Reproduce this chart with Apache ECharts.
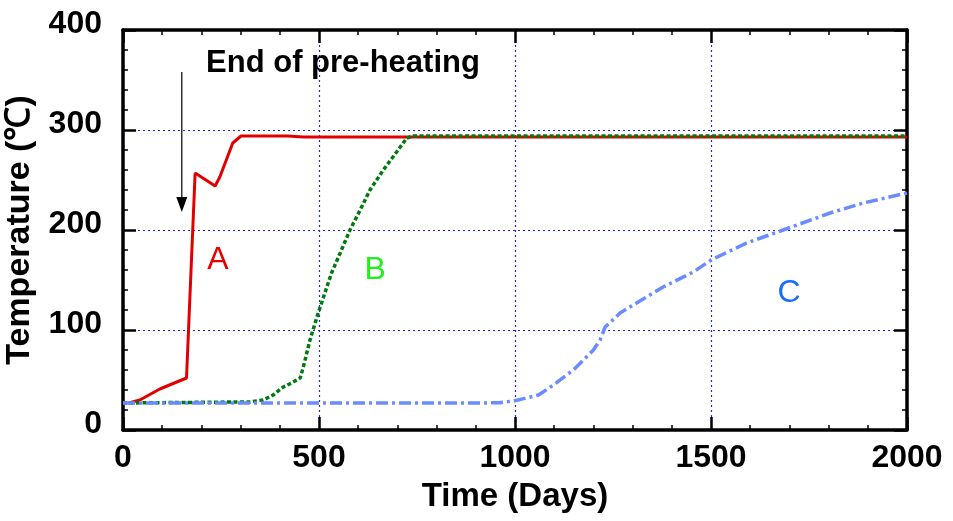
<!DOCTYPE html>
<html>
<head>
<meta charset="utf-8">
<script src="https://cdn.jsdelivr.net/npm/echarts@6/dist/echarts.min.js"></script>
<style>html,body{margin:0;padding:0;background:#fff;}#c{width:953px;height:521px;}</style>
</head>
<body>
<div id="c"></div>
<script>
// Data (days, °C)
const seriesA = [[15,27],[43,30],[94,41],[162,52],[184,257],[235,244],[247,253],[280,287],[301,294],[420,294],[460,293],[2000,293]];
const seriesB = [[0,27],[290,28],[324,28],[358,30],[383,35],[409,43],[430,47],[452,52],[460,63],[477,90],[498,117],[515,137],[532,157],[554,177],[579,200],[605,220],[630,240],[664,260],[698,278],[724,292],[740,294],[2000,294]];
const seriesC = [[0,27],[911,27],[962,27.3],[1000,29.3],[1060,35],[1098,45],[1149,60],[1200,80],[1217,90],[1230,103],[1268,117],[1310,127],[1378,143],[1455,158],[1500,170],[1591,187],[1684,200],[1804,217],[1889,227],[2000,237]];
const xTicks = [0, 500, 1000, 1500, 2000];
const yTicks = [0, 100, 200, 300, 400];
const labels = [
  {text: 'A', x: 242, y: 170, color: '#e60000'},
  {text: 'B', x: 643, y: 160, color: '#22ee22'},
  {text: 'C', x: 1699, y: 137, color: '#1a6cff'}
];
const note = {text: 'End of pre-heating', x: 217, y: 367, arrowX: 150, arrowFrom: 358, arrowTo: 218};

const font = 'Liberation Sans, Arial, sans-serif';
const chart = echarts.init(document.getElementById('c'));
const tickCommon = {
  axisLine: {show: true, onZero: false, lineStyle: {color: '#000', width: 3.5}},
  axisTick: {show: true, inside: true, length: 13, lineStyle: {color: '#000', width: 2.5}},
  minorTick: {show: true, splitNumber: 5, length: 5, lineStyle: {color: '#000', width: 1.5}},
};
const gridLine = {show: true, lineStyle: {color: '#2020ff', width: 1.2, type: [2, 3]}};
chart.setOption({
  animation: false,
  grid: {left: 123, right: 46, top: 30, bottom: 91, containLabel: false, outerBoundsMode: 'none'},
  xAxis: [
    Object.assign({type: 'value', min: xTicks[0], max: xTicks[xTicks.length-1], interval: 500,
      name: 'Time (Days)', nameLocation: 'middle', nameGap: 50,
      nameTextStyle: {fontFamily: font, fontWeight: 'bold', fontSize: 33, color: '#000'},
      axisLabel: {fontFamily: font, fontWeight: 'bold', fontSize: 32, color: '#000', margin: 12, formatter: v => String(v)},
      splitLine: gridLine}, tickCommon),
    Object.assign({type: 'value', position: 'top', min: xTicks[0], max: xTicks[xTicks.length-1], interval: 500,
      axisLabel: {show: false}, splitLine: {show: false}}, tickCommon)
  ],
  yAxis: [
    Object.assign({type: 'value', min: yTicks[0], max: yTicks[yTicks.length-1], interval: 100,
      name: 'Temperature (℃)', nameLocation: 'middle', nameGap: 86,
      nameTextStyle: {fontFamily: font, fontWeight: 'bold', fontSize: 34, color: '#000'},
      axisLabel: {fontFamily: font, fontWeight: 'bold', fontSize: 32, color: '#000', margin: 21, verticalAlign: 'bottom', lineHeight: 12, formatter: v => String(v)},
      splitLine: gridLine}, tickCommon),
    Object.assign({type: 'value', position: 'right', min: yTicks[0], max: yTicks[yTicks.length-1], interval: 100,
      axisLabel: {show: false}, splitLine: {show: false}}, tickCommon)
  ],
  series: [
    {type: 'line', data: seriesA, showSymbol: false, symbol: 'none', lineStyle: {color: '#e00000', width: 3}, z: 2},
    {type: 'line', data: seriesB, showSymbol: false, symbol: 'none', lineStyle: {color: '#007a10', width: 3.5, type: [4, 2.5]}, z: 3},
    {type: 'line', data: seriesC, showSymbol: false, symbol: 'none', lineStyle: {color: '#6a8cff', width: 3.5, type: [12, 4, 3, 4]}, z: 4}
  ]
});

const px = (x, y) => chart.convertToPixel({xAxisIndex: 0, yAxisIndex: 0}, [x, y]);
const g = [];
labels.forEach(l => {
  const p = px(l.x, l.y);
  g.push({type: 'text', x: p[0], y: p[1], z: 10, style: {text: l.text, fill: l.color, font: '32px ' + font, textAlign: 'center', textVerticalAlign: 'middle'}});
});
const np = px(note.x, note.y);
g.push({type: 'text', x: np[0] - 2, y: np[1], z: 10, style: {text: note.text, fill: '#000', font: 'bold 31px ' + font, textAlign: 'left', textVerticalAlign: 'middle'}});
const a0 = px(note.arrowX, note.arrowFrom), a1 = px(note.arrowX, note.arrowTo);
g.push({type: 'line', z: 10, shape: {x1: a0[0], y1: a0[1], x2: a1[0], y2: a1[1] - 12}, style: {stroke: '#000', lineWidth: 1.2}});
g.push({type: 'polygon', z: 10, shape: {points: [[a1[0]-5.5, a1[1]-15], [a1[0]+5.5, a1[1]-15], [a1[0], a1[1]]]}, style: {fill: '#000'}});
chart.setOption({graphic: g});
</script>
</body>
</html>
